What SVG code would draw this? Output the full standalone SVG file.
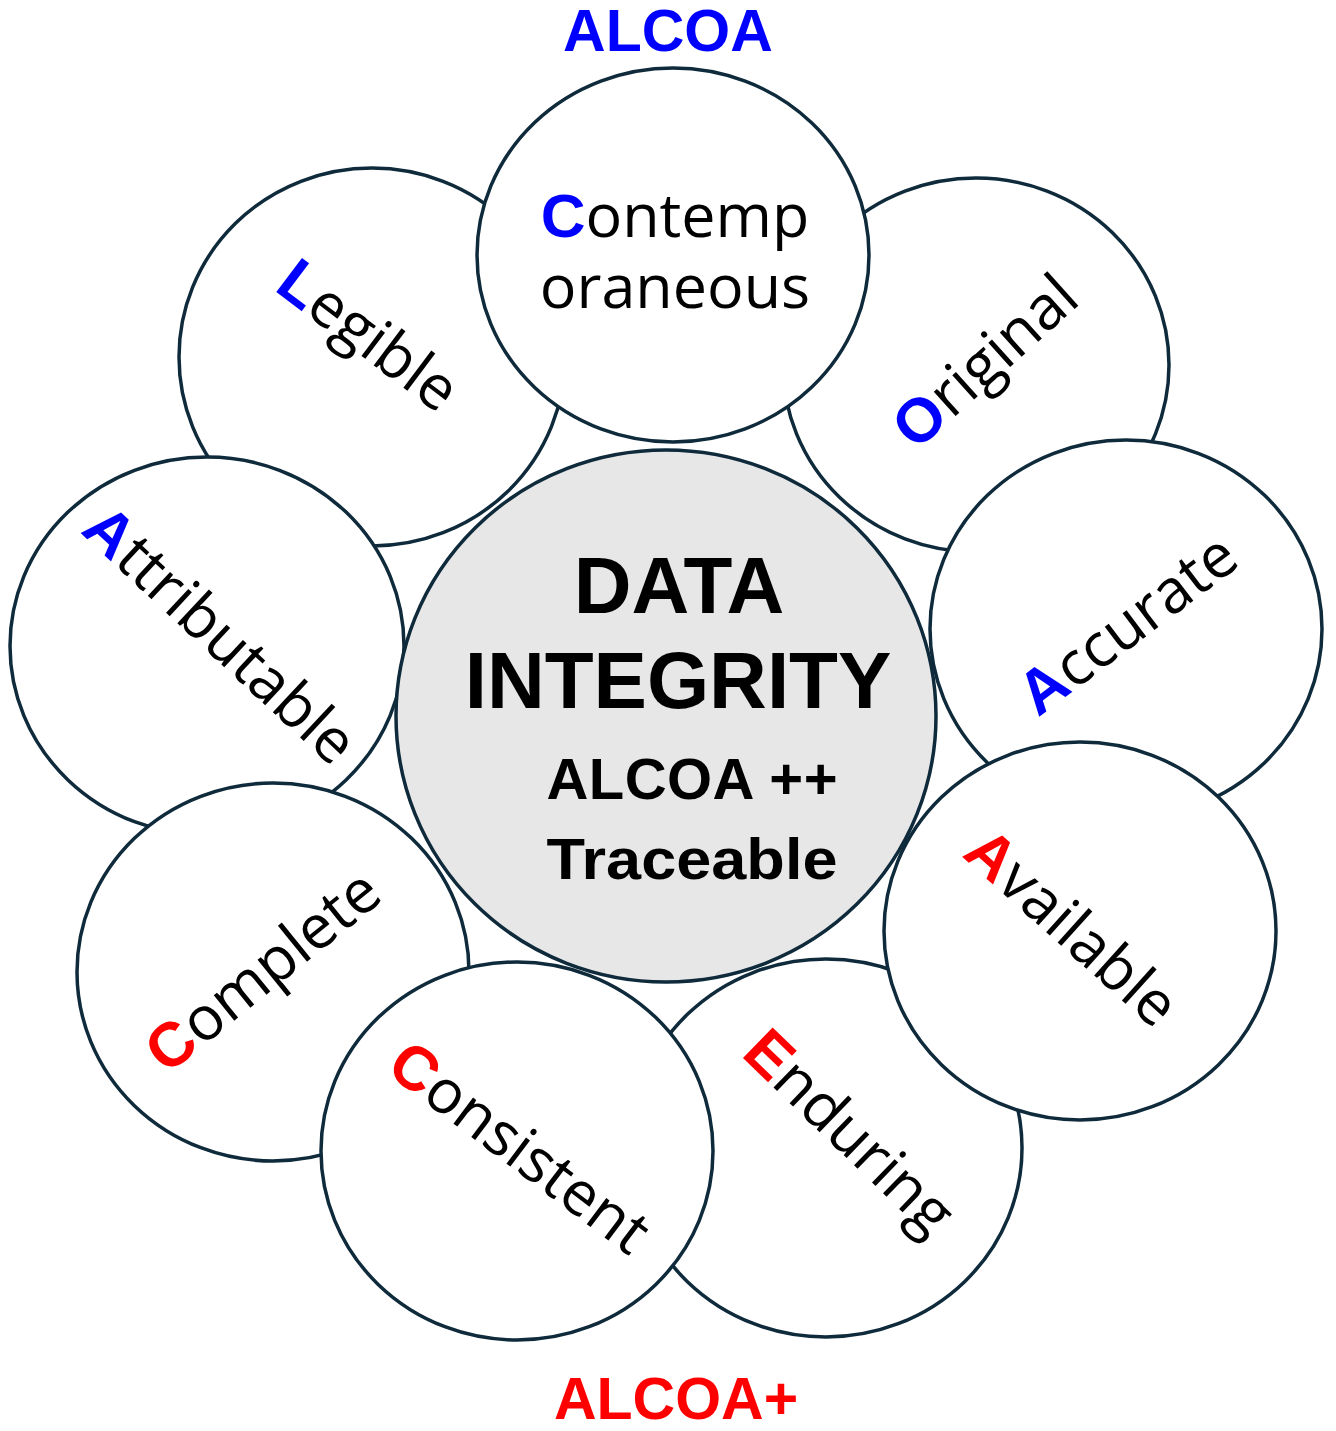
<svg xmlns="http://www.w3.org/2000/svg" width="1336" height="1431" viewBox="0 0 1336 1431">
<style>
.c{fill:#ffffff;stroke:#0e2a3b;stroke-width:3.5}
.core{fill:#e7e7e7;stroke:#0e2a3b;stroke-width:3.5}
.lbl{font-family:"Open Sans","Liberation Sans",sans-serif;font-size:61px;fill:#000}
.cap{font-family:"Liberation Sans",Arial,sans-serif;font-weight:bold;font-size:62px}
.b{fill:#0000ff}
.r{fill:#ff0000}
.hd{font-family:"Liberation Sans",Arial,sans-serif;font-weight:bold;font-size:59px;text-anchor:middle}
.ct{font-family:"Liberation Sans",Arial,sans-serif;font-weight:bold;fill:#000;text-anchor:middle}
</style>
<rect width="1336" height="1431" fill="#ffffff"/>
<text id="title-alcoa" class="hd b" x="668" y="51">ALCOA</text>
<text id="title-alcoaplus" class="hd r" x="676" y="1419">ALCOA+</text>

<g id="legible">
<ellipse class="c" cx="372" cy="357" rx="193" ry="189"/>
<text class="lbl" text-anchor="middle" transform="translate(356 352) rotate(37)"><tspan class="cap b">L</tspan>egible</text>
</g>
<g id="original">
<ellipse class="c" cx="976" cy="365" rx="193" ry="187"/>
<text class="lbl" text-anchor="middle" transform="translate(999 377) rotate(-42)"><tspan class="cap b">O</tspan>riginal</text>
</g>
<g id="enduring">
<ellipse class="c" cx="826" cy="1148" rx="196" ry="189"/>
<text class="lbl" text-anchor="middle" transform="translate(835 1147) rotate(44)"><tspan class="cap r">E</tspan>nduring</text>
</g>
<g id="attributable">
<ellipse class="c" cx="207" cy="646" rx="197" ry="189"/>
<text class="lbl" text-anchor="middle" transform="translate(206 650) rotate(43)"><tspan class="cap b">A</tspan>ttributable</text>
</g>
<g id="accurate">
<ellipse class="c" cx="1126" cy="629" rx="196" ry="189"/>
<text class="lbl" text-anchor="middle" transform="translate(1140 641) rotate(-37)"><tspan class="cap b">A</tspan>ccurate</text>
</g>
<g id="complete">
<ellipse class="c" cx="273" cy="972" rx="196" ry="189"/>
<text class="lbl" text-anchor="middle" transform="translate(276 987) rotate(-39)"><tspan class="cap r">C</tspan>omplete</text>
</g>
<g id="available">
<ellipse class="c" cx="1080" cy="931" rx="196" ry="189"/>
<text class="lbl" text-anchor="middle" transform="translate(1058 943) rotate(42)"><tspan class="cap r">A</tspan>vailable</text>
</g>
<g id="consistent">
<ellipse class="c" cx="517" cy="1151" rx="196" ry="189"/>
<text class="lbl" text-anchor="middle" transform="translate(507 1164) rotate(37)"><tspan class="cap r">C</tspan>onsistent</text>
</g>
<g id="contemporaneous">
<ellipse class="c" cx="673" cy="255" rx="196" ry="187"/>
<text class="lbl" text-anchor="middle" x="675" y="237"><tspan class="cap b">C</tspan>ontemp</text>
<text class="lbl" text-anchor="middle" x="675" y="308">oraneous</text>
</g>
<g id="data-integrity">
<ellipse class="core" cx="666" cy="716" rx="270" ry="266"/>
<text class="ct" x="679" y="613" font-size="80">DATA</text>
<text class="ct" x="678" y="708" font-size="80">INTEGRITY</text>
<text class="ct" x="692" y="799" font-size="58" textLength="291">ALCOA ++</text>
<text class="ct" x="692" y="879" font-size="58" textLength="291" lengthAdjust="spacingAndGlyphs">Traceable</text>
</g>
</svg>
